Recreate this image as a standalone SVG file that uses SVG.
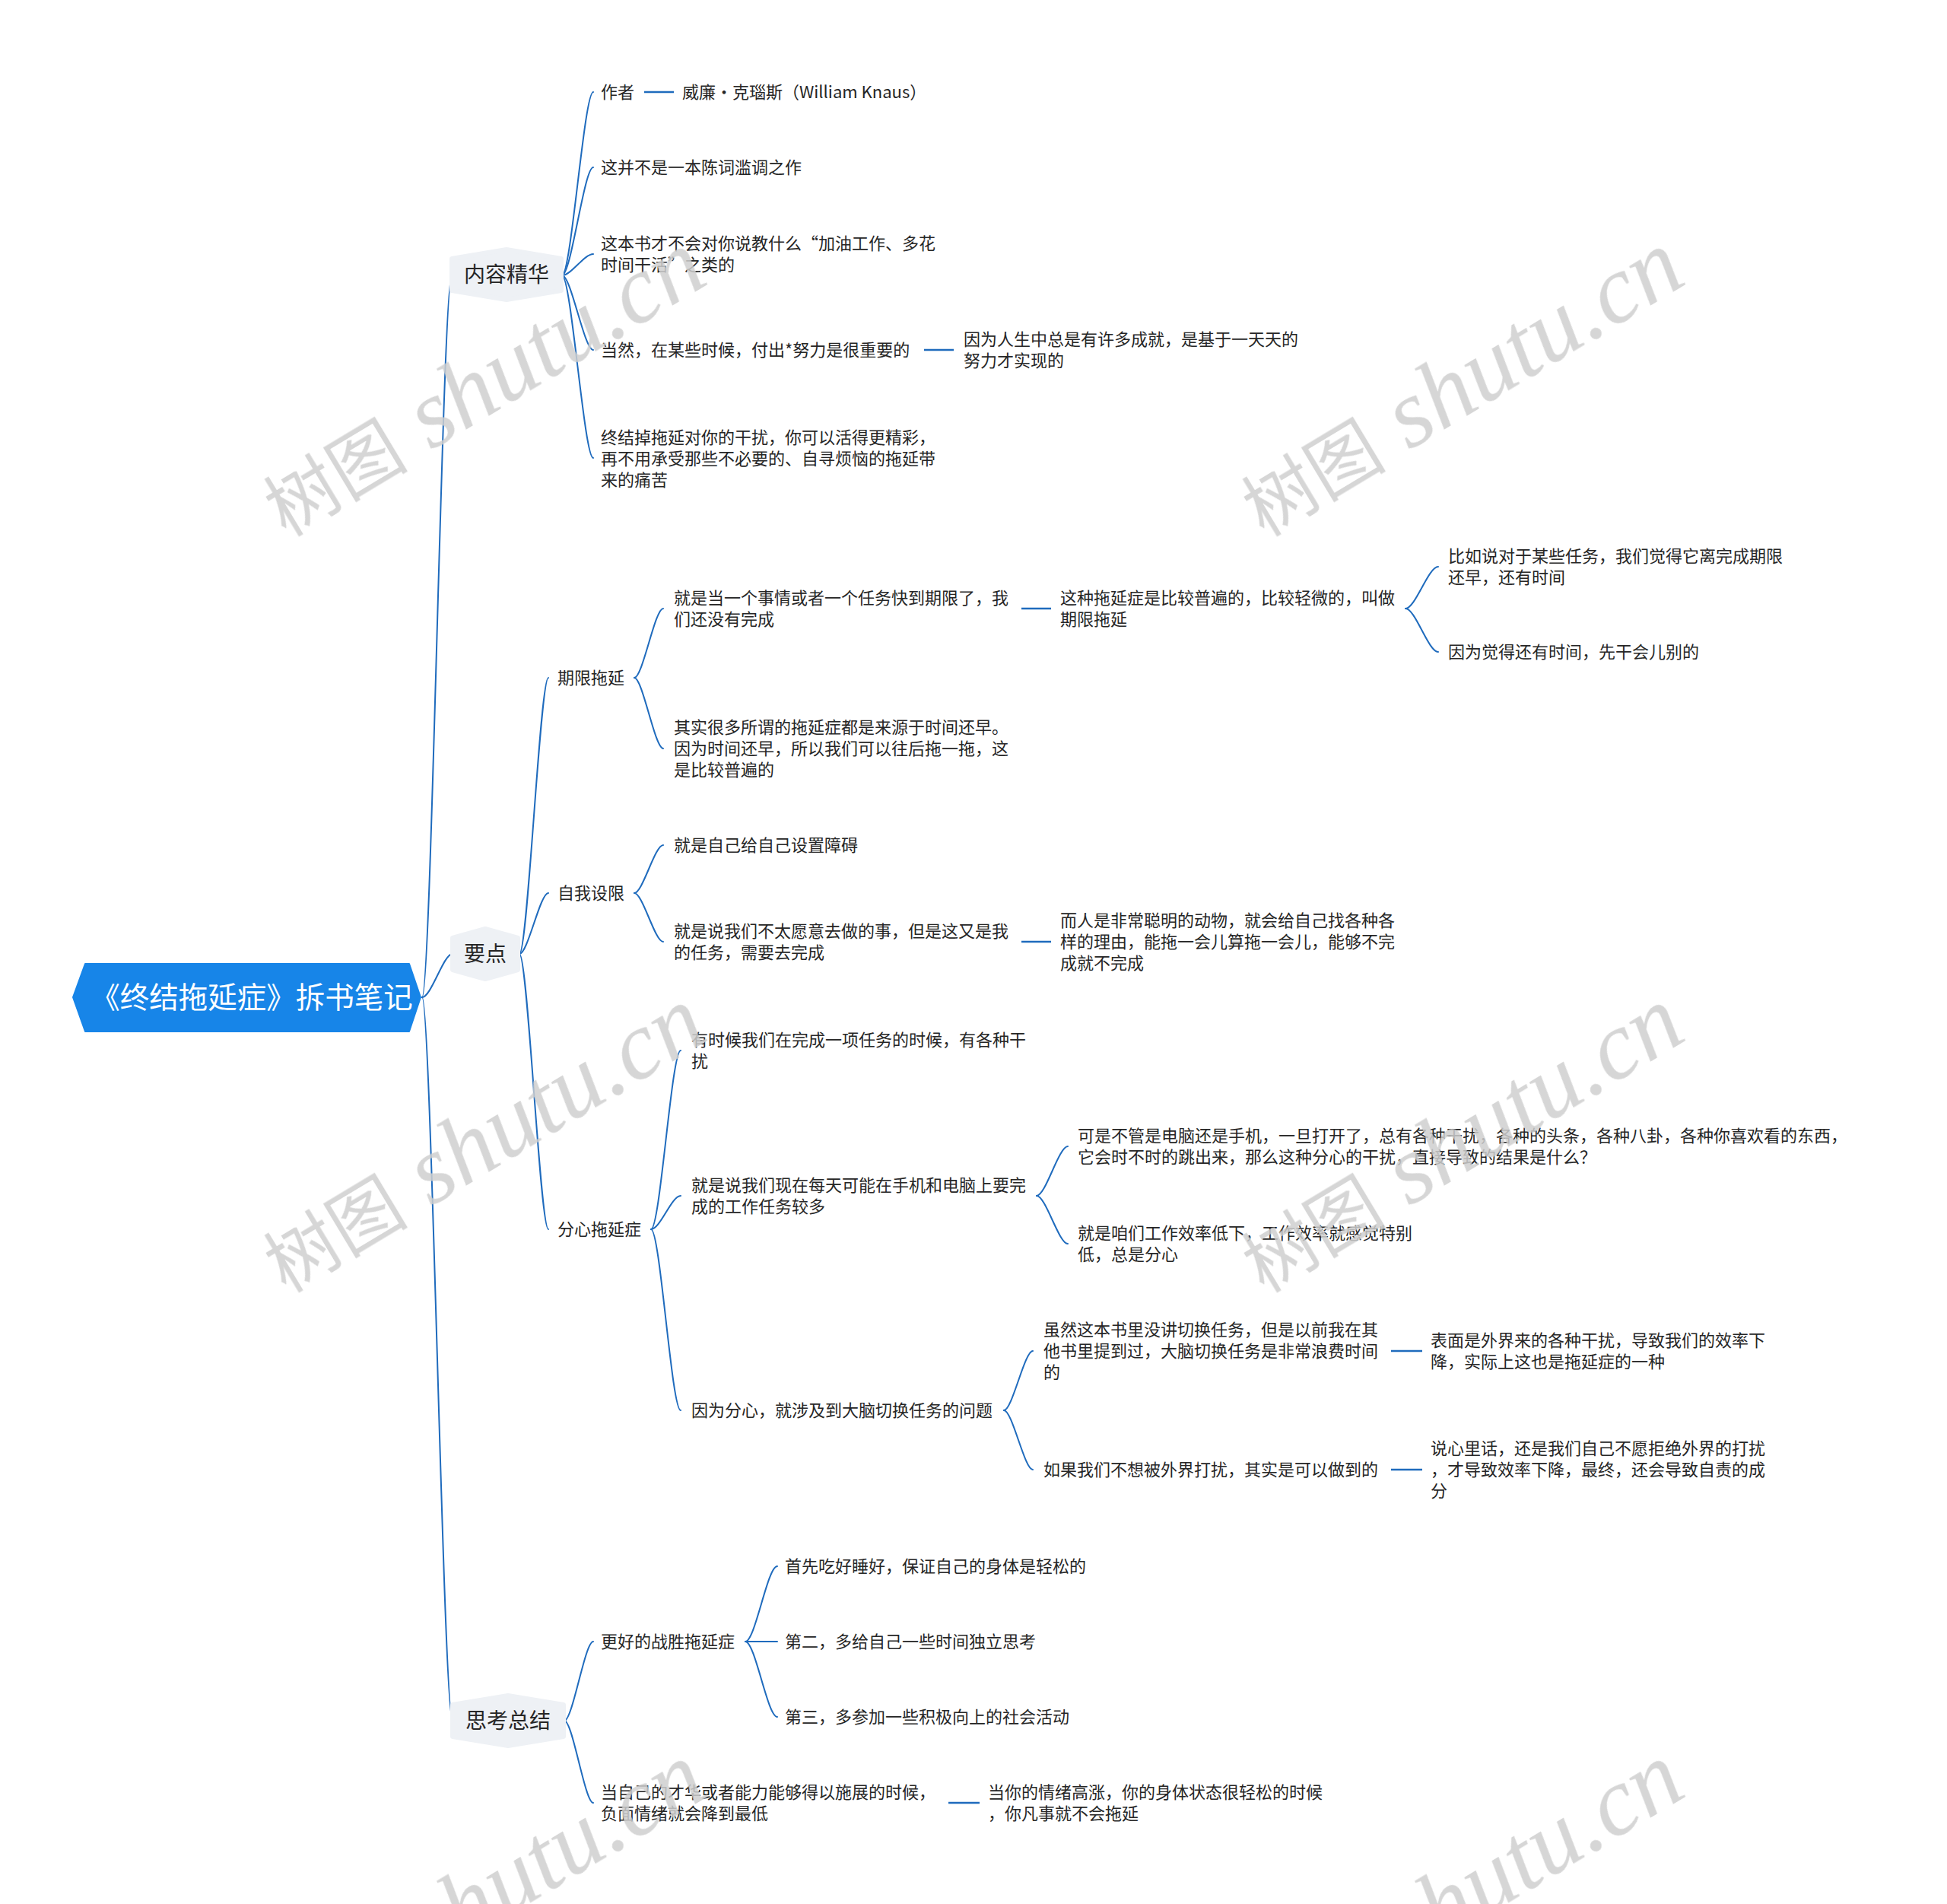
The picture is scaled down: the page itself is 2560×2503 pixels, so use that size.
<svg xmlns="http://www.w3.org/2000/svg" width="2560" height="2503" viewBox="0 0 2560 2503">
<style>
.bg{fill:#ffffff}
.ln{fill:none;stroke:#1f6bbd;stroke-width:2;stroke-linecap:round}
.sc{fill:none;stroke:#1f6bbd;stroke-width:2.5}
.t{font-family:"Noto Sans CJK SC","Noto Sans",sans-serif;font-size:22px;fill:#262626}
.t1{font-family:"Noto Sans CJK SC","Noto Sans",sans-serif;font-size:28px;fill:#262626;text-anchor:middle}
.rt{font-family:"Noto Sans CJK SC","Noto Sans",sans-serif;font-size:38.5px;fill:#ffffff;text-anchor:middle}
.root{fill:#1785e8;stroke:#1785e8;stroke-width:2;stroke-linejoin:round}
.hex{fill:#eef1f5;stroke:#eef1f5;stroke-width:6;stroke-linejoin:round}
.wm{fill:#cfcfcf;opacity:0.85}
.wmc{font-family:"Noto Sans CJK SC",serif;font-size:95px}
.wml{font-family:"Liberation Serif",serif;font-style:italic;font-size:128px}
</style>
<rect class="bg" x="0" y="0" width="2560" height="2503"/>

<g id="connectors">
<path class="ln" d="M 555 1311 C 567 1311, 582 362, 594 362"/>
<path class="ln" d="M 555 1311 C 567 1311, 583 1254, 595 1254"/>
<path class="ln" d="M 555 1311 C 567 1311, 583 2262, 595 2262"/>

<path class="ln" d="M 739 362 C 751 362, 768 121, 780 121"/>
<path class="ln" d="M 739 362 C 751 362, 768 220, 780 220"/>
<path class="ln" d="M 739 362 C 751 362, 768 334, 780 334"/>
<path class="ln" d="M 739 362 C 751 362, 768 460, 780 460"/>
<path class="ln" d="M 739 362 C 751 362, 768 602, 780 602"/>

<path class="ln" d="M 683 1254 C 694 1254, 710 891, 721 891"/>
<path class="ln" d="M 683 1254 C 694 1254, 710 1174, 721 1174"/>
<path class="ln" d="M 683 1254 C 694 1254, 710 1616, 721 1616"/>

<path class="ln" d="M 834 891 C 845 891, 861 800, 872 800"/>
<path class="ln" d="M 834 891 C 845 891, 861 984, 872 984"/>
<path class="ln" d="M 1848 800 C 1861 800, 1878 745, 1891 745"/>
<path class="ln" d="M 1848 800 C 1861 800, 1878 857, 1891 857"/>

<path class="ln" d="M 834 1174 C 845 1174, 861 1111, 872 1111"/>
<path class="ln" d="M 834 1174 C 845 1174, 861 1238, 872 1238"/>

<path class="ln" d="M 856 1616 C 868 1616, 883 1381, 895 1381"/>
<path class="ln" d="M 856 1616 C 868 1616, 883 1572, 895 1572"/>
<path class="ln" d="M 856 1616 C 868 1616, 883 1854, 895 1854"/>

<path class="ln" d="M 1363 1572 C 1375 1572, 1392 1507, 1404 1507"/>
<path class="ln" d="M 1363 1572 C 1375 1572, 1392 1635, 1404 1635"/>

<path class="ln" d="M 1320 1854 C 1331 1854, 1347 1776, 1358 1776"/>
<path class="ln" d="M 1320 1854 C 1331 1854, 1347 1932, 1358 1932"/>

<path class="ln" d="M 742 2262 C 753 2262, 769 2158, 780 2158"/>
<path class="ln" d="M 742 2262 C 753 2262, 769 2370, 780 2370"/>

<path class="ln" d="M 980 2158 C 993 2158, 1009 2059, 1022 2059"/>
<path class="ln" d="M 980 2158 L 1022 2158"/>
<path class="ln" d="M 980 2158 C 993 2158, 1009 2257, 1022 2257"/>

<path class="sc" d="M 847 121 H 886"/>
<path class="sc" d="M 1215 460 H 1254"/>
<path class="sc" d="M 1343 800 H 1382"/>
<path class="sc" d="M 1343 1238 H 1382"/>
<path class="sc" d="M 1829 1776 H 1870"/>
<path class="sc" d="M 1829 1932 H 1870"/>
<path class="sc" d="M 1247 2370 H 1288"/>
</g>

<g id="root">
<polygon class="root" points="112,1267 538,1267 553,1311 538,1356 112,1356 96,1311"/>
<text class="rt" x="331" y="1325">《终结拖延症》拆书笔记</text>
</g>

<g id="n-neirong">
<polygon class="hex" points="666,328 738,340 738,382 666,394 594,382 594,340"/>
<text class="t1" x="666" y="371">内容精华</text>
</g>
<g id="n-yaodian">
<polygon class="hex" points="638,1221 681,1233 681,1275 638,1287 595,1275 595,1233"/>
<text class="t1" x="638" y="1264">要点</text>
</g>
<g id="n-sikao">
<polygon class="hex" points="668,2229 741,2241 741,2283 668,2295 595,2283 595,2241"/>
<text class="t1" x="668" y="2272">思考总结</text>
</g>

<g id="n-zuozhe"><text class="t" x="790" y="129">作者</text></g>
<g id="n-weilian"><text class="t" x="897" y="129">威廉·克瑙斯（William Knaus）</text></g>
<g id="n-bingbu"><text class="t" x="790" y="228">这并不是一本陈词滥调之作</text></g>
<g id="n-zheben"><text class="t" x="790" y="328">这本书才不会对你说教什么“加油工作、多花<tspan x="790" dy="28">时间干活”之类的</tspan></text></g>
<g id="n-dangran"><text class="t" x="790" y="468">当然，在某些时候，付出*努力是很重要的</text></g>
<g id="n-yinwei"><text class="t" x="1267" y="454">因为人生中总是有许多成就，是基于一天天的<tspan x="1267" dy="28">努力才实现的</tspan></text></g>
<g id="n-zhongjie"><text class="t" x="790" y="583">终结掉拖延对你的干扰，你可以活得更精彩，<tspan x="790" dy="28">再不用承受那些不必要的、自寻烦恼的拖延带</tspan><tspan x="790" dy="28">来的痛苦</tspan></text></g>

<g id="n-qixian"><text class="t" x="733" y="899">期限拖延</text></g>
<g id="n-jiushidang"><text class="t" x="886" y="794">就是当一个事情或者一个任务快到期限了，我<tspan x="886" dy="28">们还没有完成</tspan></text></g>
<g id="n-zhezhong"><text class="t" x="1394" y="794">这种拖延症是比较普遍的，比较轻微的，叫做<tspan x="1394" dy="28">期限拖延</tspan></text></g>
<g id="n-biru"><text class="t" x="1904" y="739">比如说对于某些任务，我们觉得它离完成期限<tspan x="1904" dy="28">还早，还有时间</tspan></text></g>
<g id="n-yinweijue"><text class="t" x="1904" y="865">因为觉得还有时间，先干会儿别的</text></g>
<g id="n-qishi"><text class="t" x="886" y="964">其实很多所谓的拖延症都是来源于时间还早。<tspan x="886" dy="28">因为时间还早，所以我们可以往后拖一拖，这</tspan><tspan x="886" dy="28">是比较普遍的</tspan></text></g>

<g id="n-ziwo"><text class="t" x="733" y="1182">自我设限</text></g>
<g id="n-zhangai"><text class="t" x="886" y="1119">就是自己给自己设置障碍</text></g>
<g id="n-butai"><text class="t" x="886" y="1232">就是说我们不太愿意去做的事，但是这又是我<tspan x="886" dy="28">的任务，需要去完成</tspan></text></g>
<g id="n-congming"><text class="t" x="1394" y="1218">而人是非常聪明的动物，就会给自己找各种各<tspan x="1394" dy="28">样的理由，能拖一会儿算拖一会儿，能够不完</tspan><tspan x="1394" dy="28">成就不完成</tspan></text></g>

<g id="n-fenxin"><text class="t" x="733" y="1624">分心拖延症</text></g>
<g id="n-youshihou"><text class="t" x="909" y="1375">有时候我们在完成一项任务的时候，有各种干<tspan x="909" dy="28">扰</tspan></text></g>
<g id="n-meitian"><text class="t" x="909" y="1566">就是说我们现在每天可能在手机和电脑上要完<tspan x="909" dy="28">成的工作任务较多</tspan></text></g>
<g id="n-kenshi"><text class="t" x="1417" y="1501">可是不管是电脑还是手机，一旦打开了，总有各种干扰，各种的头条，各种八卦，各种你喜欢看的东西，<tspan x="1417" dy="28">它会时不时的跳出来，那么这种分心的干扰，直接导致的结果是什么？</tspan></text></g>
<g id="n-xiaolv"><text class="t" x="1417" y="1629">就是咱们工作效率低下，工作效率就感觉特别<tspan x="1417" dy="28">低，总是分心</tspan></text></g>
<g id="n-qiehuan"><text class="t" x="909" y="1862">因为分心，就涉及到大脑切换任务的问题</text></g>
<g id="n-suiran"><text class="t" x="1372" y="1756">虽然这本书里没讲切换任务，但是以前我在其<tspan x="1372" dy="28">他书里提到过，大脑切换任务是非常浪费时间</tspan><tspan x="1372" dy="28">的</tspan></text></g>
<g id="n-biaomian"><text class="t" x="1881" y="1770">表面是外界来的各种干扰，导致我们的效率下<tspan x="1881" dy="28">降，实际上这也是拖延症的一种</tspan></text></g>
<g id="n-ruguo"><text class="t" x="1372" y="1940">如果我们不想被外界打扰，其实是可以做到的</text></g>
<g id="n-shuoxin"><text class="t" x="1881" y="1912">说心里话，还是我们自己不愿拒绝外界的打扰<tspan x="1881" dy="28">，才导致效率下降，最终，还会导致自责的成</tspan><tspan x="1881" dy="28">分</tspan></text></g>

<g id="n-genghao"><text class="t" x="790" y="2166">更好的战胜拖延症</text></g>
<g id="n-shouxian"><text class="t" x="1032" y="2067">首先吃好睡好，保证自己的身体是轻松的</text></g>
<g id="n-dier"><text class="t" x="1032" y="2166">第二，多给自己一些时间独立思考</text></g>
<g id="n-disan"><text class="t" x="1032" y="2265">第三，多参加一些积极向上的社会活动</text></g>
<g id="n-caihua"><text class="t" x="790" y="2364">当自己的才华或者能力能够得以施展的时候，<tspan x="790" dy="28">负面情绪就会降到最低</tspan></text></g>
<g id="n-qingxu"><text class="t" x="1299" y="2364">当你的情绪高涨，你的身体状态很轻松的时候<tspan x="1299" dy="28">，你凡事就不会拖延</tspan></text></g>

<g id="watermarks" class="wm">
<text transform="translate(376 707) rotate(-31)"><tspan class="wmc">树图</tspan><tspan class="wml"> shutu.cn</tspan></text>
<text transform="translate(1662 707) rotate(-31)"><tspan class="wmc">树图</tspan><tspan class="wml"> shutu.cn</tspan></text>
<text transform="translate(376 1701) rotate(-31)"><tspan class="wmc">树图</tspan><tspan class="wml"> shutu.cn</tspan></text>
<text transform="translate(1662 1701) rotate(-31)"><tspan class="wmc">树图</tspan><tspan class="wml"> shutu.cn</tspan></text>
<text transform="translate(376 2695) rotate(-31)"><tspan class="wmc">树图</tspan><tspan class="wml"> shutu.cn</tspan></text>
<text transform="translate(1662 2695) rotate(-31)"><tspan class="wmc">树图</tspan><tspan class="wml"> shutu.cn</tspan></text>
</g>
</svg>
